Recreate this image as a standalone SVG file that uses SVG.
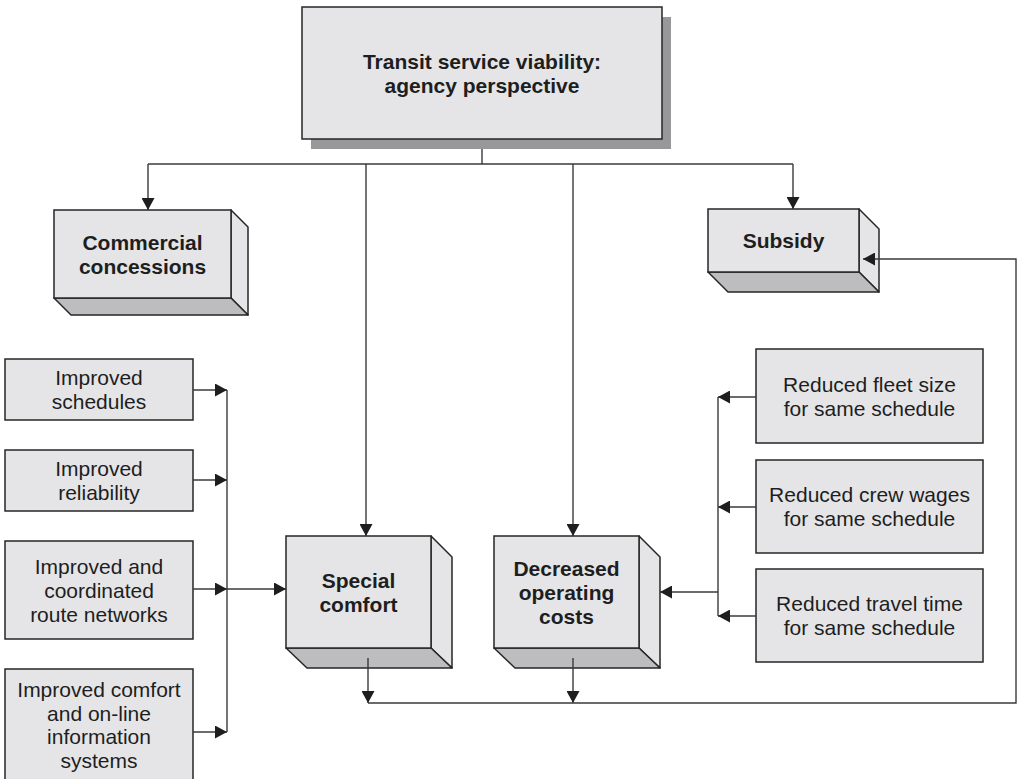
<svg xmlns="http://www.w3.org/2000/svg" width="1021" height="779" viewBox="0 0 1021 779">
  <style>
    .face { fill: #e5e5e7; stroke: #262626; stroke-width: 1.5; }
    .side { fill: #e5e5e7; stroke: #262626; stroke-width: 1.5; stroke-linejoin: round; }
    .bottom { fill: #bdbdbf; stroke: #262626; stroke-width: 1.5; stroke-linejoin: round; }
    .shadow { fill: #98989a; }
    .lbl { font-family: "Liberation Sans", Arial, sans-serif; font-size: 21px; fill: #1e1e1e; text-anchor: middle; }
    .bold { font-weight: bold; }
    .wire { fill: none; stroke: #3a3a3a; stroke-width: 1.4; }
  </style>
  <defs>
    <marker id="arrow" markerWidth="13" markerHeight="13" refX="12" refY="6.5" orient="auto" markerUnits="userSpaceOnUse">
      <path d="M0,0 L12,6.5 L0,13 Z" fill="#1e1e1e"/>
    </marker>
  </defs>
  <rect width="1021" height="779" fill="#ffffff"/>

  <!-- root node with drop shadow -->
  <g id="node-root">
    <rect class="shadow" x="311" y="17" width="360" height="132"/>
    <rect class="face" x="302" y="7" width="360" height="132"/>
    <text class="lbl bold" x="482" y="68.5">Transit service viability:</text>
    <text class="lbl bold" x="482" y="92.5">agency perspective</text>
  </g>

  <g id="node-commercial">
    <polygon class="side" points="231,210 248,227 248,315 231,298"/>
    <polygon class="bottom" points="54,298 231,298 248,315 71,315"/>
    <rect class="face" x="54" y="210" width="177" height="88"/>
    <text class="lbl bold" x="142.5" y="249.5">Commercial</text>
    <text class="lbl bold" x="142.5" y="273.5">concessions</text>
  </g>

  <g id="node-subsidy">
    <polygon class="side" points="859,209 879,229 879,292 859,272"/>
    <polygon class="bottom" points="708,272 859,272 879,292 728,292"/>
    <rect class="face" x="708" y="209" width="151" height="63"/>
    <text class="lbl bold" x="783.5" y="248">Subsidy</text>
  </g>

  <g id="node-special">
    <polygon class="side" points="431,536 452,557 452,668 431,648"/>
    <polygon class="bottom" points="286,648 431,648 452,668 307,668"/>
    <rect class="face" x="286" y="536" width="145" height="112"/>
    <text class="lbl bold" x="358.5" y="587.5">Special</text>
    <text class="lbl bold" x="358.5" y="611.5">comfort</text>
  </g>

  <g id="node-decreased">
    <polygon class="side" points="639,536 660,557 660,668 639,648"/>
    <polygon class="bottom" points="494,648 639,648 660,668 515,668"/>
    <rect class="face" x="494" y="536" width="145" height="112"/>
    <text class="lbl bold" x="566.5" y="575.5">Decreased</text>
    <text class="lbl bold" x="566.5" y="599.5">operating</text>
    <text class="lbl bold" x="566.5" y="623.5">costs</text>
  </g>

  <!-- left column -->
  <g id="node-schedules">
    <rect class="face" x="5" y="359" width="188" height="61"/>
    <text class="lbl" x="99" y="385">Improved</text>
    <text class="lbl" x="99" y="409">schedules</text>
  </g>
  <g id="node-reliability">
    <rect class="face" x="5" y="450" width="188" height="61"/>
    <text class="lbl" x="99" y="476">Improved</text>
    <text class="lbl" x="99" y="500">reliability</text>
  </g>
  <g id="node-routes">
    <rect class="face" x="5" y="541" width="188" height="98"/>
    <text class="lbl" x="99" y="573.5">Improved and</text>
    <text class="lbl" x="99" y="597.5">coordinated</text>
    <text class="lbl" x="99" y="621.5">route networks</text>
  </g>
  <g id="node-information">
    <rect class="face" x="5" y="669" width="188" height="120"/>
    <text class="lbl" x="99" y="697">Improved comfort</text>
    <text class="lbl" x="99" y="720.5">and on-line</text>
    <text class="lbl" x="99" y="744">information</text>
    <text class="lbl" x="99" y="767.5">systems</text>
  </g>

  <!-- right column -->
  <g id="node-fleet">
    <rect class="face" x="756" y="349" width="227" height="94"/>
    <text class="lbl" x="869.5" y="391.5">Reduced fleet size</text>
    <text class="lbl" x="869.5" y="415.5">for same schedule</text>
  </g>
  <g id="node-wages">
    <rect class="face" x="756" y="460" width="227" height="93"/>
    <text class="lbl" x="869.5" y="502">Reduced crew wages</text>
    <text class="lbl" x="869.5" y="526">for same schedule</text>
  </g>
  <g id="node-travel">
    <rect class="face" x="756" y="569" width="227" height="93"/>
    <text class="lbl" x="869.5" y="611">Reduced travel time</text>
    <text class="lbl" x="869.5" y="635">for same schedule</text>
  </g>

  <!-- connectors, drawn last so arrows entering the 3D side faces stay visible -->
  <g id="connectors">
    <!-- top distribution -->
    <path class="wire" d="M482,149 V164"/>
    <path class="wire" d="M148,164 H793"/>
    <path class="wire" d="M148,164 V210" marker-end="url(#arrow)"/>
    <path class="wire" d="M366,164 V536" marker-end="url(#arrow)"/>
    <path class="wire" d="M573,164 V536" marker-end="url(#arrow)"/>
    <path class="wire" d="M793,164 V209" marker-end="url(#arrow)"/>
    <!-- left inputs into Special comfort -->
    <path class="wire" d="M193,390 H227" marker-end="url(#arrow)"/>
    <path class="wire" d="M193,480 H227" marker-end="url(#arrow)"/>
    <path class="wire" d="M193,589 H227" marker-end="url(#arrow)"/>
    <path class="wire" d="M193,732 H227" marker-end="url(#arrow)"/>
    <path class="wire" d="M227,390 V732"/>
    <path class="wire" d="M227,589 H286" marker-end="url(#arrow)"/>
    <!-- right inputs into Decreased operating costs -->
    <path class="wire" d="M756,397 H718" marker-end="url(#arrow)"/>
    <path class="wire" d="M756,507 H718" marker-end="url(#arrow)"/>
    <path class="wire" d="M756,616 H718" marker-end="url(#arrow)"/>
    <path class="wire" d="M718,397 V616"/>
    <path class="wire" d="M718,592 H660" marker-end="url(#arrow)"/>
    <!-- feedback loop to Subsidy -->
    <path class="wire" d="M368,658 V703" marker-end="url(#arrow)"/>
    <path class="wire" d="M573,658 V703" marker-end="url(#arrow)"/>
    <path class="wire" d="M368,703 H1016 V259 H863" marker-end="url(#arrow)"/>
  </g>
</svg>
